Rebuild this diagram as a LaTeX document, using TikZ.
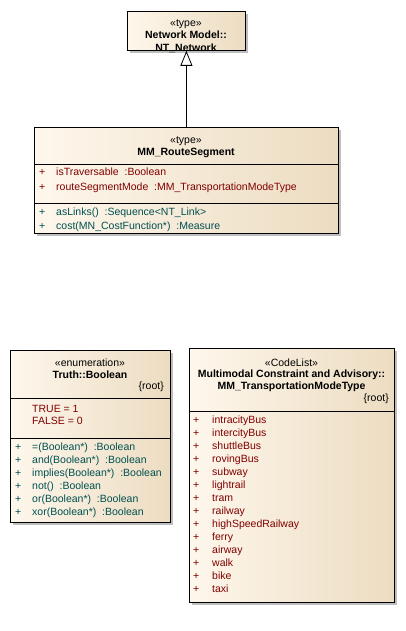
\documentclass[tikz,border=0pt]{standalone}
\usepackage{fontspec}
\setmainfont{Liberation Sans}
\usetikzlibrary{arrows.meta,shadows}
\definecolor{attrc}{RGB}{128,0,0}
\definecolor{opc}{RGB}{0,80,80}
\definecolor{boxl}{RGB}{254,247,236}
\definecolor{boxr}{RGB}{236,220,193}
\definecolor{shadc}{RGB}{190,190,190}
\tikzset{
  umlbox/.style={draw=black, line width=0.8pt, left color=boxl, right color=boxr,
    drop shadow={shadow xshift=3pt, shadow yshift=-3pt, fill=shadc, opacity=1},
    inner sep=0pt, anchor=north west},
  txt/.style={font=\fontsize{10.5}{12}\selectfont, inner sep=0pt},
  ster/.style={txt},
  title/.style={txt, font=\fontsize{10.5}{12}\selectfont\bfseries},
  root/.style={txt, anchor=mid east},
  attr/.style={txt, anchor=mid west, text=attrc},
  oper/.style={txt, anchor=mid west, text=opc},
  divider/.style={line width=0.8pt},
  gen/.style={line width=0.8pt, -{Triangle[open, fill=white, width=12pt, length=15pt]}}
}
\begin{document}
\begin{tikzpicture}[x=1pt,y=1pt]
\useasboundingbox (0,0) rectangle (405,-631);

% NT_Network
\node[umlbox, minimum width=118pt, minimum height=39pt] (nt) at (127,-11) {};
\node[ster] (ntst) at (186,-24) {«type»};
\node[title] (ntt1) at (186,-35) {Network Model::};
\node[title] (ntt2) at (186,-48) {NT\_Network};

% MM_RouteSegment
\node[umlbox, minimum width=304pt, minimum height=106pt] (rs) at (34,-127) {};
\node[ster] (rsst) at (186,-141) {«type»};
\node[title] (rst) at (186,-153) {MM\_RouteSegment};
\draw[divider] (34,-164) -- (339,-164);
\draw[divider] (34,-203) -- (339,-203);
\node[attr] (rsp1) at (39,-173) {+};
\node[attr] (rsa1) at (56,-173) {isTraversable\ \ :Boolean};
\node[attr] (rsp2) at (39,-188) {+};
\node[attr] (rsa2) at (56,-188) {routeSegmentMode\ \ :MM\_TransportationModeType};
\node[oper] (rsp3) at (39,-213) {+};
\node[oper] (rso1) at (56,-213) {asLinks()\ \ :Sequence<NT\_Link>};
\node[oper] (rsp4) at (39,-227) {+};
\node[oper] (rso2) at (56,-227) {cost(MN\_CostFunction*)\ \ :Measure};

% generalization
\draw[gen] (rs.north) -- (nt.south);

% Truth::Boolean
\node[umlbox, minimum width=160pt, minimum height=172pt] (bo) at (10,-350) {};
\node[ster] (bost) at (90,-363) {«enumeration»};
\node[title] (bot) at (90,-375) {Truth::Boolean};
\node[root] (bor) at (164,-387) {\{root\}};
\draw[divider] (10,-398) -- (171,-398);
\draw[divider] (10,-438) -- (171,-438);
\node[attr] (bov1) at (32,-410) {TRUE = 1};
\node[attr] (bov2) at (32,-422) {FALSE = 0};
\foreach [count=\i] \t in {=(Boolean*)\ \ :Boolean, and(Boolean*)\ \ :Boolean, implies(Boolean*)\ \ :Boolean, not()\ \ :Boolean, or(Boolean*)\ \ :Boolean, xor(Boolean*)\ \ :Boolean} {
  \node[oper] (bop\i) at (15,{-448.3-12.85*(\i-1)}) {+};
  \node[oper] (boo\i) at (32,{-448.3-12.85*(\i-1)}) {\t};
}

% MM_TransportationModeType
\node[umlbox, minimum width=205pt, minimum height=254pt] (cl) at (189,-348) {};
\node[ster] (clst) at (291.5,-363) {«CodeList»};
\node[title] (clt1) at (291.5,-375) {Multimodal Constraint and Advisory::};
\node[title] (clt2) at (291.5,-387) {MM\_TransportationModeType};
\node[root] (clr) at (389,-399) {\{root\}};
\draw[divider] (189,-411) -- (395,-411);
\foreach [count=\i] \t in {intracityBus,intercityBus,shuttleBus,rovingBus,subway,lightrail,tram,railway,highSpeedRailway,ferry,airway,walk,bike,taxi} {
  \node[attr] (clp\i) at (193,{-421-13*(\i-1)}) {+};
  \node[attr] (cla\i) at (212,{-421-13*(\i-1)}) {\t};
}
\end{tikzpicture}
\end{document}
